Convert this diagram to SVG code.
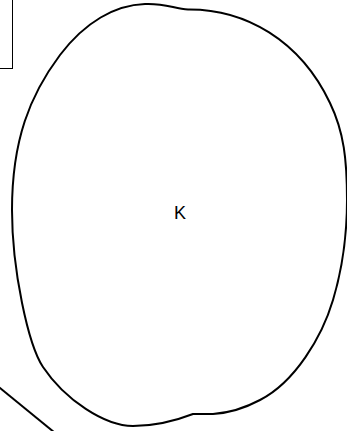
<svg xmlns="http://www.w3.org/2000/svg" width="347" height="431" viewBox="0 0 347 431">
<style>
.blob{fill:none;stroke:#000;stroke-width:2}
.box{fill:none;stroke:#000;stroke-width:1}
.lbl{font-family:"Liberation Sans",Arial,sans-serif;font-size:18px;fill:#000}
</style>
<rect width="347" height="431" fill="#fff"/>
<g id="box">
<rect class="box" x="-20" y="-20" width="32.5" height="88.5"/>
</g>
<g id="K">
<path class="blob" d="M188,9.5 C245,9 300,40 330,103 C344,132 347,160 347,200 C347,240 342,270 333,300 C322,337 295,382 260,400 C245,408 228,413 213,414 L193,414 C175,421 155,426 133,426 C105,426 65,400 43,367 C28.3,345 12,270 12,210 C12,140 30,95 60,55 C85,22 115,5 145,4 C165,3 175,9 188,9.5 Z"/>
<text class="lbl" x="180" y="219" text-anchor="middle">K</text>
</g>
<g id="connectors">
<line x1="-5" y1="384" x2="60" y2="437" stroke="#000" stroke-width="2"/>
</g>
</svg>
